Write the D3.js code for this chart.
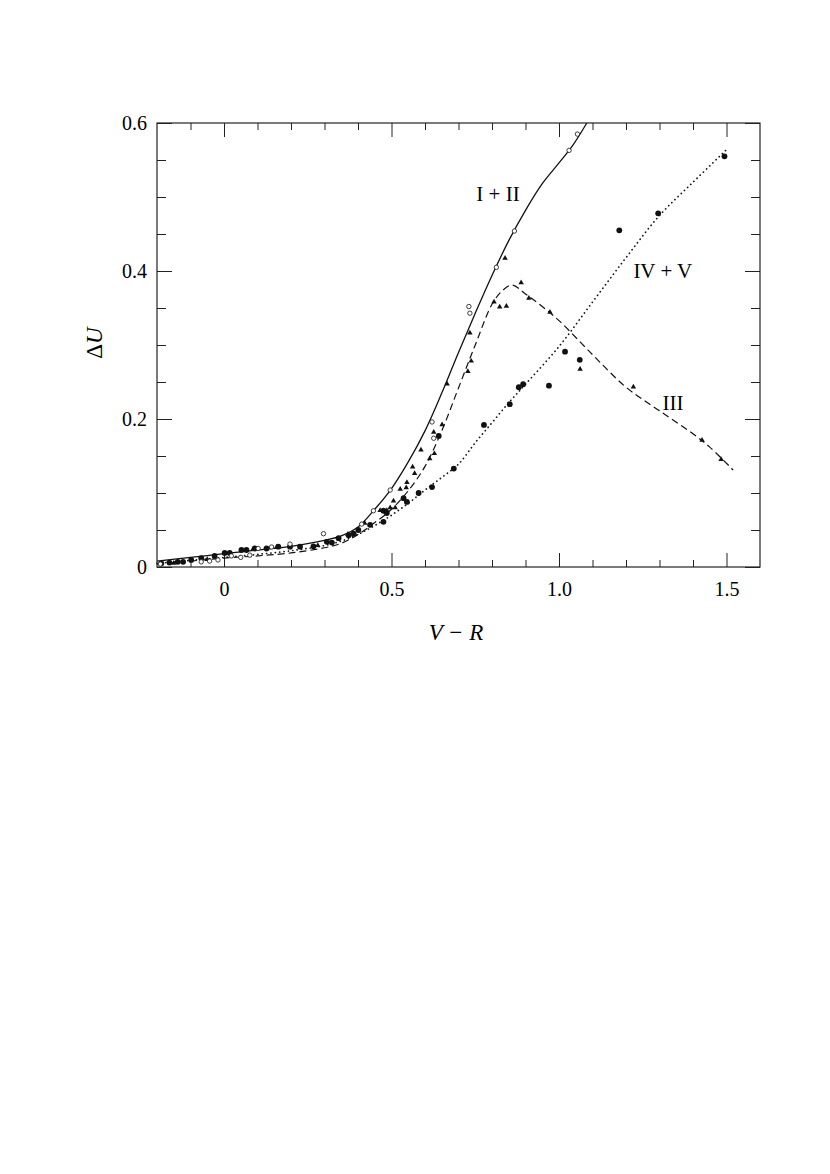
<!DOCTYPE html>
<html>
<head>
<meta charset="utf-8">
<script src="https://cdn.jsdelivr.net/npm/d3@7"></script>
<style>
  body { margin: 0; background: #fff; }
  svg text { font-family: "Liberation Serif", "Times New Roman", Times, serif; fill: #000; }
</style>
</head>
<body>
<div id="chart"></div>
<script>
// curves (V-R, dU)
const curveI = [[-0.2,0.008],[-0.1,0.013],[0,0.018],[0.1,0.023],[0.2,0.028],[0.3,0.036],[0.35,0.042],[0.4,0.054],[0.45,0.078],[0.5,0.106],[0.55,0.142],[0.6,0.184],[0.65,0.235],[0.7,0.29],[0.75,0.343],[0.8,0.394],[0.85,0.441],[0.9,0.482],[0.95,0.518],[1.0,0.546],[1.04,0.569],[1.083,0.6]];
const curveIII = [[-0.2,0.004],[-0.1,0.008],[0,0.012],[0.1,0.015],[0.2,0.019],[0.3,0.026],[0.35,0.032],[0.4,0.044],[0.45,0.06],[0.5,0.078],[0.55,0.103],[0.6,0.136],[0.65,0.184],[0.7,0.242],[0.75,0.3],[0.8,0.355],[0.83,0.373],[0.86,0.381],[0.9,0.369],[0.95,0.352],[1.0,0.333],[1.1,0.287],[1.2,0.243],[1.3,0.211],[1.4,0.18],[1.45,0.162],[1.52,0.131]];
const curveIV = [[-0.2,0.005],[-0.1,0.009],[0,0.013],[0.1,0.017],[0.2,0.022],[0.3,0.029],[0.35,0.035],[0.4,0.044],[0.45,0.056],[0.5,0.07],[0.55,0.086],[0.6,0.104],[0.65,0.121],[0.7,0.139],[0.75,0.168],[0.8,0.195],[0.85,0.222],[0.9,0.247],[1.0,0.298],[1.1,0.358],[1.2,0.418],[1.3,0.475],[1.4,0.52],[1.5,0.564]];

// observations
const openPts = [[-0.19,0.004],[-0.068,0.007],[-0.043,0.008],[-0.018,0.0095],[0.022,0.015],[0.05,0.013],[0.077,0.016],[0.102,0.025],[0.142,0.027],[0.197,0.031],[0.297,0.045],[0.411,0.058],[0.446,0.076],[0.496,0.104],[0.621,0.196],[0.626,0.174],[0.731,0.352],[0.734,0.343],[0.813,0.405],[0.867,0.454],[1.03,0.563],[1.055,0.585]];
const triPts = [[-0.15,0.006],[-0.05,0.011],[0.087,0.025],[0.157,0.027],[0.28,0.03],[0.37,0.045],[0.42,0.06],[0.466,0.077],[0.486,0.077],[0.496,0.081],[0.511,0.081],[0.506,0.09],[0.526,0.106],[0.544,0.108],[0.546,0.115],[0.563,0.136],[0.569,0.127],[0.588,0.159],[0.614,0.147],[0.626,0.183],[0.628,0.154],[0.651,0.193],[0.666,0.248],[0.728,0.265],[0.738,0.279],[0.734,0.317],[0.806,0.359],[0.823,0.352],[0.843,0.353],[0.839,0.418],[0.887,0.385],[0.91,0.364],[0.973,0.345],[1.063,0.268],[1.222,0.244],[1.427,0.172],[1.484,0.146]];
const filledPts = [[-0.187,0.005],[-0.163,0.006],[-0.138,0.007],[-0.122,0.007],[-0.098,0.0095],[-0.068,0.012],[-0.028,0.015],[0.002,0.019],[0.017,0.019],[0.052,0.023],[0.067,0.023],[0.092,0.025],[0.127,0.025],[0.162,0.0275],[0.197,0.0275],[0.227,0.0275],[0.267,0.028],[0.307,0.034],[0.322,0.033],[0.342,0.039],[0.372,0.043],[0.387,0.045],[0.401,0.05],[0.436,0.057],[0.476,0.061],[0.476,0.076],[0.486,0.073],[0.536,0.093],[0.546,0.088],[0.581,0.1],[0.621,0.108],[0.641,0.177],[0.686,0.133],[0.776,0.192],[0.853,0.22],[0.88,0.243],[0.893,0.247],[0.97,0.245],[1.018,0.291],[1.062,0.28],[1.18,0.455],[1.296,0.478],[1.494,0.555]];

// ticks
const xMajor = [0, 0.5, 1.0, 1.5];
const xLabels = ["0", "0.5", "1.0", "1.5"];
const xMinor = [-0.1, 0.1, 0.2, 0.3, 0.4, 0.6, 0.7, 0.8, 0.9, 1.1, 1.2, 1.3, 1.4];
const yMajor = [0, 0.2, 0.4, 0.6];
const yLabels = ["0", "0.2", "0.4", "0.6"];
const yMinor = [0.05, 0.1, 0.15, 0.25, 0.3, 0.35, 0.45, 0.5, 0.55];

const curveLabels = [
  { text: "I + II", v: 0.818, u: 0.505 },
  { text: "IV + V", v: 1.31, u: 0.4 },
  { text: "III", v: 1.34, u: 0.222 }
];

const W = 830, H = 1174;
const svg = d3.select("#chart").append("svg")
  .attr("width", W).attr("height", H)
  .style("background", "#fff");

const x = d3.scaleLinear().domain([-0.2, 1.6]).range([157, 760]);
const y = d3.scaleLinear().domain([0, 0.6]).range([567, 123]);

function axis(gen, vals, size, pad, fmt) {
  return gen.tickValues(vals).tickSize(size).tickSizeOuter(0).tickPadding(pad).tickFormat(fmt);
}

const tickStyle = g => {
  g.attr("font-family", null);
  g.select(".domain").remove();
  g.selectAll("line").attr("stroke", "#222").attr("stroke-width", 1);
  g.selectAll("text").style("font-size", "20px");
};

// bottom
svg.append("g").attr("transform", `translate(0,${y(0)})`)
  .call(axis(d3.axisBottom(x), xMajor, -14, 15, (d, i) => xLabels[i])).call(tickStyle);
svg.append("g").attr("transform", `translate(0,${y(0)})`)
  .call(axis(d3.axisBottom(x), xMinor, -7, 0, "")).call(tickStyle);
// top
svg.append("g").attr("transform", `translate(0,${y(0.6)})`)
  .call(axis(d3.axisTop(x), xMajor, -14, 0, "")).call(tickStyle);
svg.append("g").attr("transform", `translate(0,${y(0.6)})`)
  .call(axis(d3.axisTop(x), xMinor, -7, 0, "")).call(tickStyle);
// left
svg.append("g").attr("transform", `translate(${x(-0.2)},0)`)
  .call(axis(d3.axisLeft(y), yMajor, -15, 10, (d, i) => yLabels[i])).call(tickStyle);
svg.append("g").attr("transform", `translate(${x(-0.2)},0)`)
  .call(axis(d3.axisLeft(y), yMinor, -9, 0, "")).call(tickStyle);
// right
svg.append("g").attr("transform", `translate(${x(1.6)},0)`)
  .call(axis(d3.axisRight(y), yMajor, -15, 0, "")).call(tickStyle);
svg.append("g").attr("transform", `translate(${x(1.6)},0)`)
  .call(axis(d3.axisRight(y), yMinor, -9, 0, "")).call(tickStyle);

// frame
svg.append("rect")
  .attr("x", x(-0.2)).attr("y", y(0.6))
  .attr("width", x(1.6) - x(-0.2)).attr("height", y(0) - y(0.6))
  .attr("fill", "none").attr("stroke", "#222").attr("stroke-width", 1.2);

// curves
const line = d3.line().x(d => x(d[0])).y(d => y(d[1])).curve(d3.curveCatmullRom.alpha(0.5));

svg.append("path").datum(curveI).attr("d", line)
  .attr("fill", "none").attr("stroke", "#111").attr("stroke-width", 1.3);
svg.append("path").datum(curveIII).attr("d", line)
  .attr("fill", "none").attr("stroke", "#111").attr("stroke-width", 1.2)
  .attr("stroke-dasharray", "7,4");
svg.append("path").datum(curveIV).attr("d", line)
  .attr("fill", "none").attr("stroke", "#111").attr("stroke-width", 1.7)
  .attr("stroke-linecap", "round").attr("stroke-dasharray", "0.1,4.3");

// points
svg.append("g").selectAll("circle").data(filledPts).join("circle")
  .attr("cx", d => x(d[0])).attr("cy", d => y(d[1])).attr("r", 2.9)
  .attr("fill", "#111");
svg.append("g").selectAll("path").data(triPts).join("path")
  .attr("transform", d => `translate(${x(d[0])},${y(d[1]) + 0.5})`)
  .attr("d", d3.symbol(d3.symbolTriangle, 13))
  .attr("fill", "#111");
svg.append("g").selectAll("circle").data(openPts).join("circle")
  .attr("cx", d => x(d[0])).attr("cy", d => y(d[1])).attr("r", 2.2)
  .attr("fill", "#fff").attr("stroke", "#111").attr("stroke-width", 0.8);

// curve labels
svg.append("g").selectAll("text").data(curveLabels).join("text")
  .attr("x", d => x(d.v)).attr("y", d => y(d.u))
  .attr("text-anchor", "middle").attr("dy", "0.35em")
  .style("font-size", "21px")
  .text(d => d.text);

// axis titles
svg.append("text")
  .attr("x", 456).attr("y", 632).attr("text-anchor", "middle").attr("dy", "0.35em")
  .style("font-size", "23px").style("font-style", "italic")
  .text("V \u2212 R");
svg.append("text")
  .attr("transform", "translate(94,343) rotate(-90)")
  .attr("text-anchor", "middle").attr("dy", "0.35em")
  .style("font-size", "23px")
  .html("\u0394<tspan font-style='italic'>U</tspan>");
</script>
</body>
</html>
